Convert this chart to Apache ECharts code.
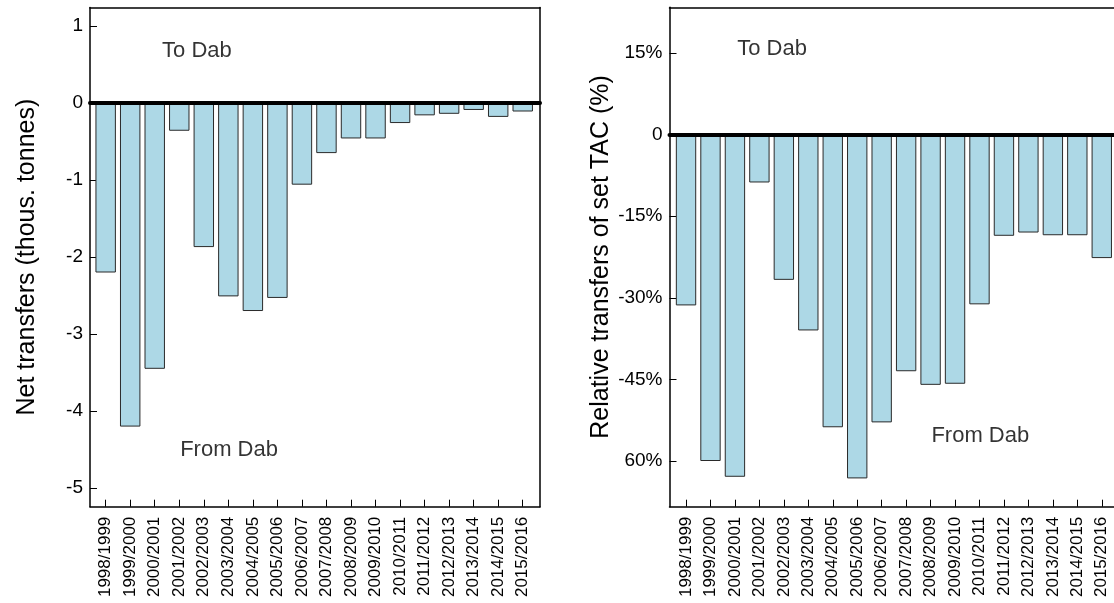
<!DOCTYPE html>
<html>
<head>
<meta charset="utf-8">
<title>Net and relative transfers</title>
<script src="https://cdn.jsdelivr.net/npm/echarts@6/dist/echarts.min.js"></script>
<style>
  html, body { margin: 0; padding: 0; background: #fff; }
  #chart { width: 1114px; height: 603px; }
</style>
</head>
<body>
<div id="chart"></div>
<script>
// Fishing seasons
const categories = [
  '1998/1999', '1999/2000', '2000/2001', '2001/2002', '2002/2003', '2003/2004',
  '2004/2005', '2005/2006', '2006/2007', '2007/2008', '2008/2009', '2009/2010',
  '2010/2011', '2011/2012', '2012/2013', '2013/2014', '2014/2015', '2015/2016'
];

// Net transfers, thousand tonnes (negative = from Dab)
const netTransfers = [
  -2.20, -4.20, -3.45, -0.36, -1.87, -2.51,
  -2.70, -2.53, -1.06, -0.65, -0.46, -0.46,
  -0.26, -0.16, -0.14, -0.09, -0.18, -0.11
];

// Transfers relative to the set TAC, percent
const relativeTransfers = [
  -31.4, -60.0, -62.9, -8.8, -26.7, -36.0,
  -53.8, -63.2, -52.9, -43.5, -46.0, -45.8,
  -31.2, -18.6, -18.0, -18.5, -18.5, -22.7
];

// Tick positions and their printed labels
const netTicks = [-5, -4, -3, -2, -1, 0, 1];
const netTickLabels = ['-5', '-4', '-3', '-2', '-1', '0', '1'];
const relTicks = [-60, -45, -30, -15, 0, 15];
const relTickLabels = ['60%', '-45%', '-30%', '-15%', '0', '15%'];

// Axis ranges (limits padded by 4% as in the original plot)
const netRange = [-5.24, 1.24];
const relRange = [-68.4, 23.4];

// Annotation texts: [category position, value, text]
const netNotes = [[3.72, 0.68, 'To Dab'], [5.03, -4.5, 'From Dab']];
const relNotes = [[3.52, 15.7, 'To Dab'], [12.0, -55.4, 'From Dab']];

const FONT = "'Liberation Sans', Arial, Helvetica, sans-serif";

const option = {
  backgroundColor: '#fff',
  animation: false,
  grid: [], xAxis: [], yAxis: [], series: []
};

const frameLine = { show: true, onZero: false, lineStyle: { color: '#000', width: 1.5 } };
const bare = { axisTick: { show: false }, axisLabel: { show: false }, splitLine: { show: false } };

// Each panel has a frame grid (box lines, zero line, value ticks, notes)
// and a slightly narrower data grid holding the season axis and the bars.
function addPanel(p) {
  const gFrame = option.grid.push({ left: p.frameLeft, top: p.top, width: p.frameWidth, height: p.height }) - 1;
  const gData = option.grid.push({ left: p.dataLeft, top: p.top, width: p.dataWidth, height: p.height }) - 1;

  const xZero = option.xAxis.push(Object.assign({
    type: 'value', gridIndex: gFrame, min: p.xMin, max: p.xMax, z: 10,
    axisLine: { show: true, onZero: true, lineStyle: { color: '#000', width: 4 } }
  }, bare)) - 1;
  option.xAxis.push(Object.assign({
    type: 'value', gridIndex: gFrame, min: p.xMin, max: p.xMax, position: 'bottom', axisLine: frameLine
  }, bare));
  option.xAxis.push(Object.assign({
    type: 'value', gridIndex: gFrame, min: p.xMin, max: p.xMax, position: 'top', axisLine: frameLine
  }, bare));
  const xCat = option.xAxis.push({
    type: 'category', gridIndex: gData, data: categories, position: 'bottom',
    axisLine: { show: false, onZero: false },
    axisTick: { show: true, inside: true, alignWithLabel: true, length: 7,
                lineStyle: { color: '#000', width: 1 } },
    axisLabel: { rotate: 90, margin: 10, color: '#000', fontSize: 17, fontFamily: FONT, interval: 0 },
    splitLine: { show: false }
  }) - 1;

  const yFrame = option.yAxis.push({
    type: 'value', gridIndex: gFrame, min: p.range[0], max: p.range[1], position: 'left',
    axisLine: frameLine,
    axisTick: { show: true, inside: true, length: 7, customValues: p.ticks,
                lineStyle: { color: '#000', width: 1 } },
    axisLabel: {
      customValues: p.ticks, margin: 7, color: '#000', fontSize: 19, fontFamily: FONT,
      formatter: v => p.tickLabels[p.ticks.indexOf(v)]
    },
    splitLine: { show: false },
    name: p.title, nameLocation: 'middle', nameRotate: 90, nameGap: p.titleGap,
    nameTextStyle: { color: '#000', fontSize: 25, fontFamily: FONT }
  }) - 1;
  if (p.closeRight) {
    option.yAxis.push(Object.assign({
      type: 'value', gridIndex: gFrame, min: p.range[0], max: p.range[1], position: 'right', axisLine: frameLine
    }, bare));
  }
  const yData = option.yAxis.push({
    type: 'value', gridIndex: gData, min: p.range[0], max: p.range[1], show: false,
    splitLine: { show: false }
  }) - 1;

  option.series.push({
    type: 'bar', xAxisIndex: xCat, yAxisIndex: yData, data: p.values,
    barCategoryGap: '16.7%',
    itemStyle: { color: '#ADD8E6', borderColor: '#2a2a2a', borderWidth: 1 },
    silent: true
  });
  option.series.push({
    type: 'scatter', xAxisIndex: xZero, yAxisIndex: yFrame, symbolSize: 0,
    data: p.notes.map(n => ({ value: [n[0], n[1]], name: n[2] })),
    label: { show: true, position: 'inside', formatter: '{b}', color: '#000',
             fontSize: 22, fontFamily: FONT },
    silent: true, z: 12
  });
}

addPanel({
  frameLeft: 90, frameWidth: 450, dataLeft: 93.4, dataWidth: 441.6,
  top: 7.5, height: 499.2, xMin: -0.64, xMax: 17.705, closeRight: true,
  range: netRange, ticks: netTicks, tickLabels: netTickLabels, titleGap: 50,
  values: netTransfers, notes: netNotes, title: 'Net transfers (thous. tonnes)'
});
// the right panel runs to the page edge, where its box is cut off
addPanel({
  frameLeft: 669.5, frameWidth: 444.5, dataLeft: 673.8, dataWidth: 440.2,
  top: 7.3, height: 499.4, xMin: -0.66, xMax: 17.446, closeRight: false,
  range: relRange, ticks: relTicks, tickLabels: relTickLabels, titleGap: 56,
  values: relativeTransfers, notes: relNotes, title: 'Relative transfers of set TAC (%)'
});

const chart = echarts.init(document.getElementById('chart'), null, { renderer: 'canvas' });
chart.setOption(option);
</script>
</body>
</html>
